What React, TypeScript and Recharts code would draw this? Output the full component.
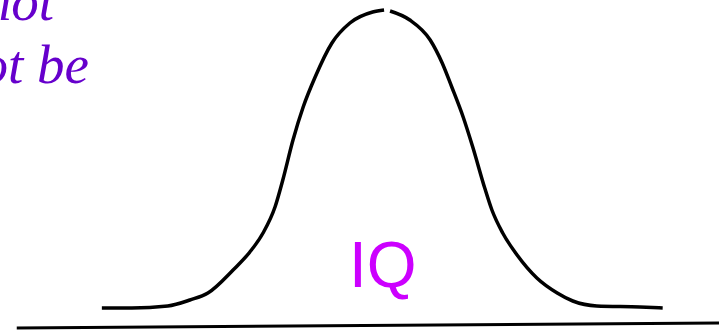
import { LineChart, Line, XAxis, YAxis, ReferenceLine } from 'recharts';

// IQ score along the bottom, curve height above the baseline
const iqScores = [
  53, 58, 64, 67.7, 70.7, 74.9, 77.7, 79.9, 81.9, 83.2, 84.9, 86.6, 88.6, 91.4, 94.4, 98.2, 100.1,
  100.7,
  101.1, 104.4, 107.8, 109.8, 111.4, 113.3, 114.9, 116.9, 118.1, 119.9, 122.3, 125.6, 129, 131.6, 135.6, 142.8, 146.6,
];
// null leaves the small break at the top of the bell
const heights: (number | null)[] = [
  22, 22, 24, 30, 37, 60, 78, 97, 123, 150, 190, 223, 253, 287, 307, 318, 320,
  null,
  319, 310, 290, 267, 243, 213, 183, 142, 120, 97, 75, 52, 37, 29, 24, 23, 22,
];
const baseline = [
  { x: 38.8, y: 2 },
  { x: 156, y: 7 },
];

const data = iqScores.map((iq, i) => ({ iq, h: heights[i] }));

export default function App() {
  return (
    <div style={{ position: 'absolute', left: 0, top: 0, width: 719, height: 330, background: '#fff' }}>
      <LineChart width={719} height={330} data={data} margin={{ top: 0, right: 0, bottom: 0, left: 0 }}>
        <XAxis type="number" dataKey="iq" domain={[36, 156]} hide />
        <YAxis type="number" domain={[0, 330]} hide />
        <ReferenceLine segment={baseline} stroke="#000" strokeWidth={3} ifOverflow="visible" />
        <Line
          type="monotone"
          dataKey="h"
          stroke="#000"
          strokeWidth={3.5}
          dot={false}
          activeDot={false}
          isAnimationActive={false}
        />
      </LineChart>
      <svg width={719} height={330} style={{ position: 'absolute', left: 0, top: 0, pointerEvents: 'none' }}>
        <g fontFamily="'Liberation Serif', 'Times New Roman', serif" fontStyle="italic" fontSize={55} fill="#6600cc" textAnchor="end">
          <text x={54} y={20}>cannot</text>
          <text x={89} y={83}>cannot be</text>
        </g>
        <text x={349} y={287} fontFamily="'Liberation Sans', Arial, sans-serif" fontSize={64} fill="#cc00ff">IQ</text>
      </svg>
    </div>
  );
}
